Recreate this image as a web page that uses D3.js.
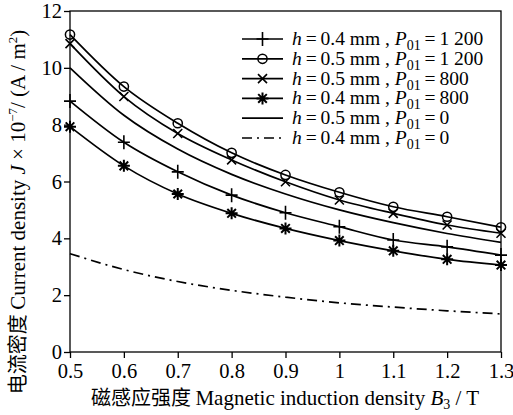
<!DOCTYPE html>
<html>
<head>
<meta charset="utf-8">
<script src="https://cdn.jsdelivr.net/npm/d3@7"></script>
<style>
  body { margin: 0; background: #fff; }
  svg { display: block; font-family: "Liberation Serif", "DejaVu Serif", serif; }
</style>
</head>
<body>
<div id="chart"></div>
<script>
// Data (B in T, J x 1e-7 in A/m^2)
const fieldB = [0.5, 0.6, 0.7, 0.8, 0.9, 1.0, 1.1, 1.2, 1.3]
const h04P1200 = [8.83, 7.38, 6.34, 5.52, 4.90, 4.41, 3.94, 3.70, 3.41]
const h05P1200 = [11.17, 9.34, 8.05, 7.01, 6.23, 5.62, 5.11, 4.76, 4.39]
const h05P800 = [10.85, 8.99, 7.69, 6.76, 5.99, 5.35, 4.88, 4.47, 4.18]
const h04P800 = [7.93, 6.55, 5.56, 4.88, 4.35, 3.92, 3.56, 3.26, 3.06]
const h05P0 = [10.0, 8.33, 7.14, 6.25, 5.56, 5.0, 4.55, 4.17, 3.86]
const h04P0 = [3.46, 2.90, 2.48, 2.17, 1.93, 1.73, 1.58, 1.45, 1.34]
const xTicks = [0.5, 0.6, 0.7, 0.8, 0.9, 1, 1.1, 1.2, 1.3]
const yTicks = [0, 2, 4, 6, 8, 10, 12]

const series = [
    { h: '0.4', p: '1 200', values: h04P1200, marker: 'plus', dash: null },
    { h: '0.5', p: '1 200', values: h05P1200, marker: 'circle', dash: null },
    { h: '0.5', p: '800', values: h05P800, marker: 'cross', dash: null },
    { h: '0.4', p: '800', values: h04P800, marker: 'star', dash: null },
    { h: '0.5', p: '0', values: h05P0, marker: null, dash: null },
    { h: '0.4', p: '0', values: h04P0, marker: null, dash: '10,5,2,5' },
]

const viewBoxWidth = 513
const viewBoxHeight = 415
const marginLeft = 70
const marginTop = 11
const width = 431
const height = 341
const thin = '\u2009'

const svg = d3.select('#chart')
    .append('svg')
    .attr('width', viewBoxWidth)
    .attr('height', viewBoxHeight)
const plot = svg.append('g')
    .attr('transform', `translate(${marginLeft}, ${marginTop})`)

const x = d3.scaleLinear().domain([0.5, 1.3]).range([0, width])
const y = d3.scaleLinear().domain([0, 12]).range([height, 0])

// marker shapes, centred on the point
const markerPath = {
    plus: 'M-6,0H6M0,-7V7',
    cross: 'M-4.5,-4.5L4.5,4.5M-4.5,4.5L4.5,-4.5',
    star: 'M-6,0H6M0,-6V6M-4.3,-4.3L4.3,4.3M-4.3,4.3L4.3,-4.3',
}

function drawMarker(g, type, cx, cy) {
    if (type === 'circle') {
        g.append('circle')
            .attr('cx', cx).attr('cy', cy).attr('r', 4.6)
            .attr('fill', 'none').attr('stroke', '#000').attr('stroke-width', 1.5)
    } else {
        g.append('path')
            .attr('transform', `translate(${cx}, ${cy})`)
            .attr('d', markerPath[type])
            .attr('fill', 'none').attr('stroke', '#000')
            .attr('stroke-width', type === 'star' ? 2 : 1.6)
    }
}

// frame
plot.append('rect')
    .attr('width', width).attr('height', height)
    .attr('fill', 'none').attr('stroke', '#000').attr('stroke-width', 1.3)

// axes
const xAxis = plot.append('g')
    .attr('transform', `translate(0, ${height})`)
    .call(d3.axisBottom(x).tickValues(xTicks).tickSize(6).tickFormat(d3.format('')))
const yAxis = plot.append('g')
    .call(d3.axisLeft(y).tickValues(yTicks).tickSize(6))
for (const ax of [xAxis, yAxis]) {
    ax.select('.domain').remove()
    ax.selectAll('line').attr('stroke-width', 1.3)
    ax.selectAll('text')
        .attr('font-family', '"Liberation Serif", serif')
        .attr('font-size', 20.5)
        .attr('fill', '#000')
}
xAxis.selectAll('text').attr('dy', '0.85em')
yAxis.selectAll('text').attr('x', -8)

// curves
const line = d3.line()
    .x((d, i) => x(fieldB[i]))
    .y(d => y(d))
    .curve(d3.curveMonotoneX)

const curves = plot.append('g')
series.forEach(s => {
    curves.append('path')
        .attr('d', line(s.values))
        .attr('fill', 'none')
        .attr('stroke', '#000')
        .attr('stroke-width', 1.7)
        .attr('stroke-dasharray', s.dash)
    if (s.marker) {
        s.values.forEach((v, i) => drawMarker(curves, s.marker, x(fieldB[i]), y(v)))
    }
})

// legend
const legend = plot.append('g')
    .attr('transform', `translate(${242 - marginLeft}, ${39 - marginTop})`)
series.forEach((s, i) => {
    const row = legend.append('g').attr('transform', `translate(0, ${i * 19.8})`)
    row.append('line')
        .attr('x1', 0).attr('x2', 41)
        .attr('stroke', '#000').attr('stroke-width', 1.7)
        .attr('stroke-dasharray', s.dash)
    if (s.marker) drawMarker(row, s.marker, 20.5, 0)
    const t = row.append('text')
        .attr('x', 50).attr('y', 6)
        .attr('font-size', 19.5)
    t.append('tspan').attr('font-style', 'italic').text('h')
    t.append('tspan').text(`${thin}=${thin}${s.h} mm , `)
    t.append('tspan').attr('font-style', 'italic').text('P')
    t.append('tspan').attr('font-size', 14).attr('dy', 5).text('01')
    t.append('tspan').attr('dy', -5).text(`${thin}=${thin}${s.p}`)
})

// axis titles
const xTitle = svg.append('text')
    .attr('x', 285).attr('y', 405)
    .attr('text-anchor', 'middle')
    .attr('font-size', 21)
xTitle.append('tspan').attr('font-family', '"Noto Sans CJK SC"').attr('font-size', 20).text('磁感应强度 ')
xTitle.append('tspan').text('Magnetic induction density ')
xTitle.append('tspan').attr('font-style', 'italic').text('B')
xTitle.append('tspan').attr('font-size', 14).attr('dy', 4).text('3')
xTitle.append('tspan').attr('dy', -4).text(' / T')

const yTitle = svg.append('text')
    .attr('transform', `translate(25, 212) rotate(-90)`)
    .attr('text-anchor', 'middle')
    .attr('font-size', 21)
yTitle.append('tspan').attr('font-family', '"Noto Sans CJK SC"').attr('font-size', 20).text('电流密度 ')
yTitle.append('tspan').text('Current density ')
yTitle.append('tspan').attr('font-style', 'italic').text('J')
yTitle.append('tspan').text(' × 10')
yTitle.append('tspan').attr('font-size', 13).attr('dy', -8).text('−7')
yTitle.append('tspan').attr('dy', 8).text('/ (A / m')
yTitle.append('tspan').attr('font-size', 13).attr('dy', -8).text('2')
yTitle.append('tspan').attr('dy', 8).text(')')
</script>
</body>
</html>
